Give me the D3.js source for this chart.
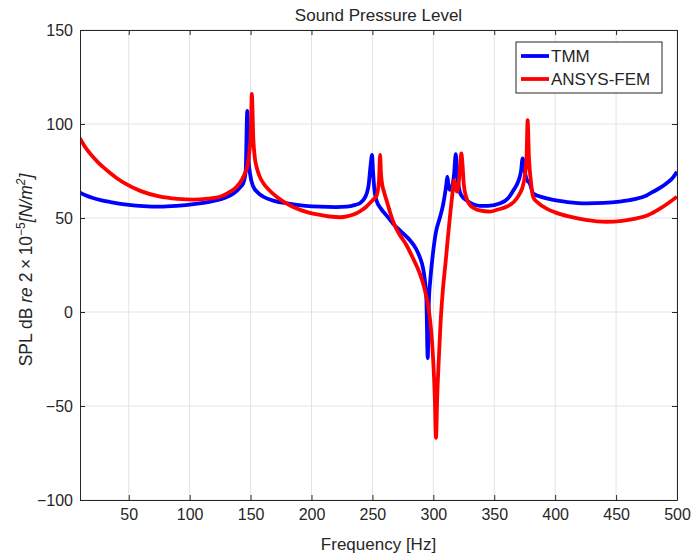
<!DOCTYPE html>
<html>
<head>
<meta charset="utf-8">
<script src="https://cdn.jsdelivr.net/npm/d3@7"></script>
<style>
  body { margin: 0; background: #fff; }
  text { font-family: "Liberation Sans", Arial, Helvetica, sans-serif; fill: #262626; }
</style>
</head>
<body>
<svg id="chart" width="692" height="554"></svg>
<script>
  // TMM curve (frequency in Hz, SPL in dB)
  var freqTMM = [10,15,20,27,35,50,62,75,89,105,117,128,136,141,144,146,147.3,148.5,149.5,152.3,
    156,160.5,170,180,195,207,220,229,236,240,243,245.3,247,248.5,249.7,250.5,251.5,253.5,257,262,
    267,274,281,285.5,289,291.5,293,294.3,295.4,296.3,297.5,299.5,302,305.5,308,309.6,310.7,311.5,312.5,313.7,
    315.5,317,318.4,319.5,321,323,327,332,338,345,355,362,366,370,372,373.3,375,377,379,382,
    390,398.5,410,426,440,453,465,475,480.5,486,491.5,496,500];
  var splTMM = [63.5,62,60.8,59.5,58.5,57,56.3,56,56.4,57.5,58.7,60.5,63,66,68.5,75,107,80,73.8,66.6,
    63.5,61.3,59,57.8,56.5,56,55.8,56,57,58,60,63,68,78,83.5,75,66,59,55,51,
    47,42.5,38,34,29,23.5,17,7,-24.5,5,17,30,42,50.5,57,63,68,72,67,65,
    67,73,84,74,66,62,59.6,57.5,56.5,56.5,57.8,61,65,70,75,81.7,75,70,68.6,63,
    61,59.6,58.5,57.8,58,58.7,60,62,64,66,68.5,71,74.6];

  // ANSYS-FEM curve
  var freqFEM = [10,15,20,25,30,35,40,48,60,75,90,103,115,125,132,138.6,143,145.4,147.5,149,
    150.3,151,152.3,153.5,155,157.5,160.5,165,171.4,180,187.8,197,207,215,223.4,230,237,242,245,248,
    251,253.5,254.5,255.5,256.3,257,258,259.5,262,265,268,272,278,283,287,291,294,296.5,298.5,300,
    301.2,302.2,303.2,304.5,306,308,310,312,314,315.5,317,318.5,319.7,321,322,323,324,325,327,330,
    334,338,346.5,353,360,366,371,373.5,375,376.5,377.4,378.5,380,382,386,393,400,412,425,442,
    455,467,476,486,493,500];
  var splFEM = [92.4,87,83,79.5,76.5,73.8,71.3,68,64.3,61.5,60.2,59.8,60.3,61.3,63.5,66.6,70.5,73.8,78,85,
    97,116,91.5,82,77,72,68.5,65,61.3,57.5,55,53,51.6,50.8,50.4,51,52.5,54.5,56,58,
    60,62,65,71,83.5,74,68,64,58.5,52,46.5,41.5,35.5,29,23.5,16.5,9,0,-12,-27,
    -45,-67,-45,-25,-5,13,26,40,53,62,70,65,64,70,78,84.4,78,68,61,57,
    55,54,53.4,54.5,56,58.5,63,67,72,82,102,82,70,61,58,55,53,50.7,49,48,
    48.5,49.8,51.5,55,58,61.3];

  var xTicks = [50,100,150,200,250,300,350,400,450,500];
  var yTicks = [-100,-50,0,50,100,150];
  var seriesNames = ["TMM", "ANSYS-FEM"];
  var seriesColors = ["#0000ff", "#ff0000"];

  var margin = {top: 30, right: 15, bottom: 54, left: 80},
      width = 692 - margin.left - margin.right,
      height = 554 - margin.top - margin.bottom;

  var svg = d3.select("#chart")
    .append("g")
      .attr("transform", "translate(" + margin.left + "," + margin.top + ")");

  var x = d3.scaleLinear().domain([10, 500]).range([0, width]);
  var y = d3.scaleLinear().domain([-100, 150]).range([height, 0]);

  // grid
  svg.append("g").selectAll("line").data(xTicks).enter().append("line")
    .attr("x1", function(d) { return x(d); }).attr("x2", function(d) { return x(d); })
    .attr("y1", 0).attr("y2", height)
    .attr("stroke", "#e3e3e3").attr("stroke-width", 1);
  svg.append("g").selectAll("line").data(yTicks).enter().append("line")
    .attr("y1", function(d) { return y(d); }).attr("y2", function(d) { return y(d); })
    .attr("x1", 0).attr("x2", width)
    .attr("stroke", "#e3e3e3").attr("stroke-width", 1);

  svg.append("clipPath").attr("id", "plotclip")
    .append("rect").attr("width", width).attr("height", height);

  var line = d3.line()
    .x(function(d) { return x(d[0]); })
    .y(function(d) { return y(d[1]); })
    .curve(d3.curveMonotoneX);

  var series = [d3.zip(freqTMM, splTMM), d3.zip(freqFEM, splFEM)];
  series.forEach(function(s, i) {
    svg.append("path")
      .datum(s)
      .attr("clip-path", "url(#plotclip)")
      .attr("fill", "none")
      .attr("stroke", seriesColors[i])
      .attr("stroke-width", 3.8)
      .attr("stroke-linejoin", "round")
      .attr("d", line);
  });

  // axes with inward ticks on all four sides
  function styleAxis(g) {
    g.select(".domain").attr("stroke", "#262626");
    g.selectAll(".tick line").attr("stroke", "#262626");
    g.selectAll(".tick text").attr("fill", "#262626").style("font-size", "16px")
      .style("font-family", "'Liberation Sans', Arial, sans-serif");
  }
  svg.append("g")
    .attr("transform", "translate(0," + height + ")")
    .call(d3.axisBottom(x).tickValues(xTicks).tickSizeInner(-5).tickSizeOuter(0).tickPadding(9))
    .call(styleAxis);
  svg.append("g")
    .call(d3.axisTop(x).tickValues(xTicks).tickSizeInner(-5).tickSizeOuter(0).tickFormat(""))
    .call(styleAxis);
  svg.append("g")
    .call(d3.axisLeft(y).tickValues(yTicks).tickSizeInner(-5).tickSizeOuter(0).tickPadding(7))
    .call(styleAxis);
  svg.append("g")
    .attr("transform", "translate(" + width + ",0)")
    .call(d3.axisRight(y).tickValues(yTicks).tickSizeInner(-5).tickSizeOuter(0).tickFormat(""))
    .call(styleAxis);

  // title and labels
  svg.append("text")
    .attr("x", width / 2).attr("y", -9)
    .attr("text-anchor", "middle")
    .style("font-size", "17px")
    .text("Sound Pressure Level");

  svg.append("text")
    .attr("x", width / 2).attr("y", height + 50)
    .attr("text-anchor", "middle")
    .style("font-size", "17px")
    .text("Frequency [Hz]");

  var yl = svg.append("text")
    .attr("transform", "translate(-48," + (height / 2 + 5) + ") rotate(-90)")
    .attr("text-anchor", "middle")
    .style("font-size", "17.5px");
  yl.append("tspan").text("SPL dB ");
  yl.append("tspan").style("font-style", "italic").text("re");
  yl.append("tspan").text(" 2\u2009\u00d7\u200910");
  yl.append("tspan").style("font-size", "12px").attr("dy", -7).text("\u22125");
  yl.append("tspan").style("font-style", "italic").attr("dy", 7).text("[N/m");
  yl.append("tspan").style("font-style", "italic").style("font-size", "12px").attr("dy", -7).text("2");
  yl.append("tspan").style("font-style", "italic").attr("dy", 7).text("]");

  // legend
  var lg = svg.append("g").attr("transform", "translate(" + (516 - margin.left) + "," + (42 - margin.top) + ")");
  lg.append("rect")
    .attr("width", 146).attr("height", 51)
    .attr("fill", "#fff").attr("stroke", "#262626").attr("stroke-width", 1);
  seriesNames.forEach(function(n, i) {
    var row = lg.append("g").attr("transform", "translate(0," + (14 + i * 23) + ")");
    row.append("line")
      .attr("x1", 5).attr("x2", 33)
      .attr("stroke", seriesColors[i]).attr("stroke-width", 3.8);
    row.append("text")
      .attr("x", 35).attr("y", 6)
      .style("font-size", "17px")
      .attr("fill", "#000")
      .text(n);
  });
</script>
</body>
</html>
